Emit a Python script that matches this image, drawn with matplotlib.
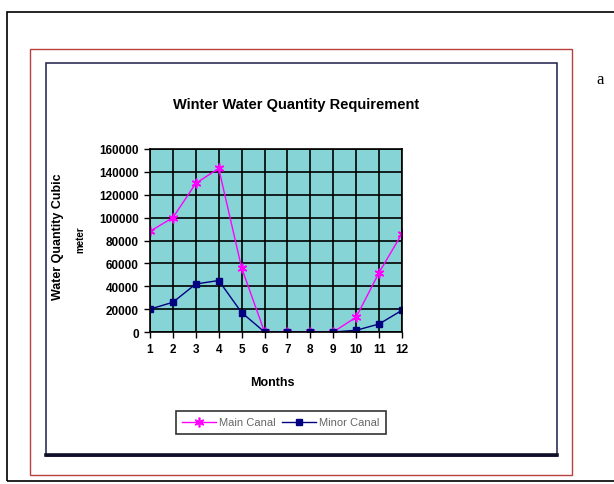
import matplotlib.pyplot as plt
from matplotlib.patches import Rectangle
from matplotlib.lines import Line2D

plt.rcParams['font.family'] = ['Liberation Sans', 'DejaVu Sans']

months = list(range(1, 13))
main_canal = [88000, 100000, 130000, 143000, 56000, 0, 0, 0, 0, 13000, 52000, 86000]
minor_canal = [20000, 26000, 42000, 45000, 17000, 0, 0, 0, 0, 1500, 7000, 19000]
y_ticks = [0, 20000, 40000, 60000, 80000, 100000, 120000, 140000, 160000]

W, H = 614, 485
fig = plt.figure(figsize=(W / 100, H / 100), dpi=100)


def fx(px):
    return px / W


def fy(py):
    return 1 - py / H


def frame(x0, y0, x1, y1, color, lw):
    r = Rectangle((fx(x0), fy(y1)), fx(x1) - fx(x0), fy(y0) - fy(y1),
                  transform=fig.transFigure, fill=False, edgecolor=color, linewidth=lw)
    fig.add_artist(r)


# page frames
frame(7, 13, 640, 482, 'black', 1.2)
frame(30, 50, 572, 476, '#b8403f', 1.0)
frame(46, 64, 557, 457, '#1c1c4a', 1.1)
fig.add_artist(Line2D([fx(46), fx(557)], [fy(456), fy(456)], transform=fig.transFigure,
                      color='#10102a', linewidth=2.6))
fig.text(fx(600), fy(80), 'a', family='Liberation Serif', fontsize=12, ha='center', va='center')

ax = fig.add_axes([fx(150), fy(333), fx(402) - fx(150), fy(150) - fy(333)])
ax.set_facecolor('#86d4d6')

ax.plot(months, main_canal, color='#ff00ff', linewidth=1.0, marker=(6, 2, 0),
        markersize=7, markeredgewidth=1.2, label='Main Canal')
ax.plot(months, minor_canal, color='#000080', linewidth=1.0, marker='s',
        markersize=5, label='Minor Canal')

ax.set_xlim(1, 12)
ax.set_ylim(0, 160000)
ax.set_xticks(months)
ax.set_yticks(y_ticks)
ax.grid(True, color='black', linewidth=1.2)
ax.set_axisbelow(True)
for s in ax.spines.values():
    s.set_color('black')
    s.set_linewidth(1.2)
ax.tick_params(direction='out', length=4, width=1, labelsize=8.5, pad=4)
for lab in ax.get_xticklabels() + ax.get_yticklabels():
    lab.set_fontweight('bold')

fig.text(fx(296), fy(105), 'Winter Water Quantity Requirement', fontsize=10.5,
         fontweight='bold', ha='center', va='center')
fig.text(fx(272), fy(383), 'Months', fontsize=9, fontweight='bold', ha='center', va='center')
fig.text(fx(58), fy(237), 'Water Quantity Cubic', fontsize=9, fontweight='bold',
         rotation=90, ha='center', va='center')
fig.text(fx(80), fy(240), 'meter', fontsize=7, fontweight='bold',
         rotation=90, ha='center', va='center')

leg = ax.legend(loc='center', bbox_to_anchor=(fx(281), fy(423.5)), bbox_transform=fig.transFigure,
                ncol=2, fontsize=8, frameon=True, fancybox=False, edgecolor='black',
                handlelength=3.0, handletextpad=0.3, columnspacing=0.6, borderpad=0.6)
leg.get_frame().set_linewidth(1.2)
for t in leg.get_texts():
    t.set_color('#666666')

fig.savefig('out.png', dpi=100)
